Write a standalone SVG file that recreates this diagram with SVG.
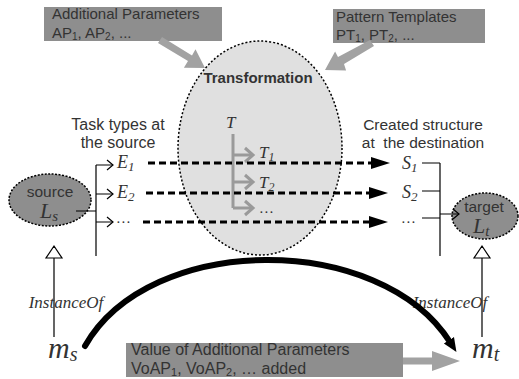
<svg xmlns="http://www.w3.org/2000/svg" width="519" height="379" viewBox="0 0 519 379">
<defs>
<style>
.sans{font-family:"Liberation Sans",Arial,sans-serif;fill:#333}
.math{font-family:"Liberation Serif","Times New Roman",serif;font-style:italic;fill:#333}
.box{fill:#8e8e8e}
.garrow{fill:#a2a2a2}
.dash{stroke:#000;stroke-width:3;stroke-dasharray:7 4;fill:none}
.thin{stroke:#000;stroke-width:1.2;fill:none}
.gray{stroke:#9a9a9a;stroke-width:3;fill:none}
</style>
<marker id="bigHead" markerUnits="userSpaceOnUse" markerWidth="14" markerHeight="14" refX="2" refY="6" orient="auto" viewBox="0 0 14 12">
<path d="M0,0 L14,6 L0,12 z" fill="#000"/>
</marker>
</defs>
<rect width="519" height="379" fill="#fff"/>

<g id="transformation">
<ellipse cx="260" cy="148" rx="82" ry="107" fill="#e0e0e0" stroke="#000" stroke-width="1.5" stroke-dasharray="2 2"/>
<text class="sans" x="258" y="83" font-size="15" font-weight="bold" text-anchor="middle" fill="#222">Transformation</text>
<text class="math" x="226" y="128" font-size="17">T</text>
<path class="gray" d="M233,134 V208 M233,155 H252 M233,182 H252 M233,208 H252"/>
<path class="gray" d="M245,148 L253,155 L245,162 M245,175 L253,182 L245,189 M245,201 L253,208 L245,215"/>
<text class="math" x="259" y="158" font-size="17">T<tspan font-size="12" dy="3">1</tspan></text>
<text class="math" x="259" y="188" font-size="17">T<tspan font-size="12" dy="3">2</tspan></text>
<text class="math" x="260" y="213" font-size="15">…</text>
</g>

<g id="additional-parameters">
<rect class="box" x="44" y="7" width="178" height="34"/>
<text class="sans" x="52" y="19" font-size="15">Additional Parameters</text>
<text class="sans" x="52" y="38" font-size="15">AP<tspan font-size="10" dy="2">1</tspan><tspan dy="-2">, AP</tspan><tspan font-size="10" dy="2">2</tspan><tspan dy="-2">, ...</tspan></text>
</g>

<g id="pattern-templates">
<rect class="box" x="333" y="9" width="152" height="34"/>
<text class="sans" x="336" y="22" font-size="15">Pattern Templates</text>
<text class="sans" x="336" y="40" font-size="15">PT<tspan font-size="10" dy="2">1</tspan><tspan dy="-2">, PT</tspan><tspan font-size="10" dy="2">2</tspan><tspan dy="-2">, ...</tspan></text>
</g>

<g id="source">
<ellipse cx="50" cy="200" rx="41" ry="26" fill="#8e8e8e" stroke="#000" stroke-width="1.5" stroke-dasharray="2 1.5"/>
<text class="sans" x="50" y="197" font-size="15.5" text-anchor="middle">source</text>
<text class="math" x="40" y="218" font-size="22">L<tspan font-size="15" dy="3">s</tspan></text>
</g>

<g id="target">
<ellipse cx="485" cy="216" rx="33" ry="23" fill="#8e8e8e" stroke="#000" stroke-width="1.5" stroke-dasharray="2 1.5"/>
<text class="sans" x="484" y="212" font-size="15.5" text-anchor="middle">target</text>
<text class="math" x="473" y="233" font-size="22">L<tspan font-size="15" dy="3">t</tspan></text>
</g>

<g id="source-types">
<text class="sans" x="118" y="130" font-size="16" text-anchor="middle">Task types at</text>
<text class="sans" x="118" y="148" font-size="16" text-anchor="middle">the source</text>
<text class="math" x="117" y="168" font-size="18">E<tspan font-size="13" dy="3">1</tspan></text>
<text class="math" x="117" y="198" font-size="18">E<tspan font-size="13" dy="3">2</tspan></text>
<text class="math" x="117" y="223" font-size="15">…</text>
</g>

<g id="destination-structure">
<text class="sans" x="423" y="130" font-size="15.5" text-anchor="middle">Created structure</text>
<text class="sans" x="423" y="148" font-size="15.5" text-anchor="middle" xml:space="preserve">at  the destination</text>
<text class="math" x="402" y="169" font-size="18">S<tspan font-size="13" dy="3">1</tspan></text>
<text class="math" x="402" y="198" font-size="18">S<tspan font-size="13" dy="3">2</tspan></text>
<text class="math" x="402" y="223" font-size="15">…</text>
</g>

<g id="model-source">
<text class="math" x="48" y="358" font-size="30">m<tspan font-size="20" dy="3">s</tspan></text>
</g>

<g id="model-target">
<text class="math" x="472" y="358" font-size="30">m<tspan font-size="20" dy="3">t</tspan></text>
</g>

<g id="added-values">
<rect class="box" x="126" y="343" width="277" height="34"/>
<text class="sans" x="131" y="355" font-size="16">Value of Additional Parameters</text>
<text class="sans" x="131" y="374" font-size="16">VoAP<tspan font-size="11" dy="2">1</tspan><tspan dy="-2">, VoAP</tspan><tspan font-size="11" dy="2">2</tspan><tspan dy="-2">, … added</tspan></text>
</g>

<g id="connectors">
<!-- gray parameter arrows -->
<polygon class="garrow" points="158,43 162,37 192,55.5 195.5,49.2 205,68 183.9,67.8 188,61"/>
<polygon class="garrow" points="370,40 374,46 344,64 346.1,70.5 325,70 335.1,51.5 338,57"/>
<polygon class="garrow" points="403,357.5 432,357.5 432,351 460,361 432,371 432,364.5 403,364.5"/>

<!-- dashed mapping lines -->
<line class="dash" x1="148" y1="163" x2="374" y2="163"/>
<line class="dash" x1="146" y1="193" x2="372" y2="193"/>
<line class="dash" x1="143" y1="222" x2="372" y2="222"/>
<path d="M371,157 L390,163 L371,169 z" fill="#000"/>
<path d="M369,187 L388,193 L369,199 z" fill="#000"/>
<path d="M369,216 L388,222 L369,228 z" fill="#000"/>

<!-- left bracket -->
<path class="thin" d="M76,211 H96 M96,165 V256 M96,165 H113 M96,194 H113 M96,222 H113"/>
<path class="thin" d="M107,160 L113,165 L107,170 M107,189 L113,194 L107,199 M107,217 L113,222 L107,227"/>

<!-- right bracket -->
<path class="thin" d="M422,163 H440 M422,191 H440 M422,218 H440 M440,163 V256 M440,214 H459"/>
<path class="thin" d="M453,209 L459,214 L453,219"/>

<!-- instanceof -->
<path class="thin" d="M54,258 V337 M482,258 V337"/>
<path d="M54,246 L46,258 L62,258 z M482,246 L474,258 L490,258 z" fill="#fff" stroke="#000" stroke-width="1.2"/>
<text class="math" x="66" y="308" font-size="17" text-anchor="middle">InstanceOf</text>
<text class="math" x="450" y="308" font-size="17" text-anchor="middle">InstanceOf</text>

<!-- big transformation arc -->
<path d="M85,346 C150,232 380,232 450,342" fill="none" stroke="#000" stroke-width="6" stroke-linecap="round" marker-end="url(#bigHead)"/>
</g>
</svg>
